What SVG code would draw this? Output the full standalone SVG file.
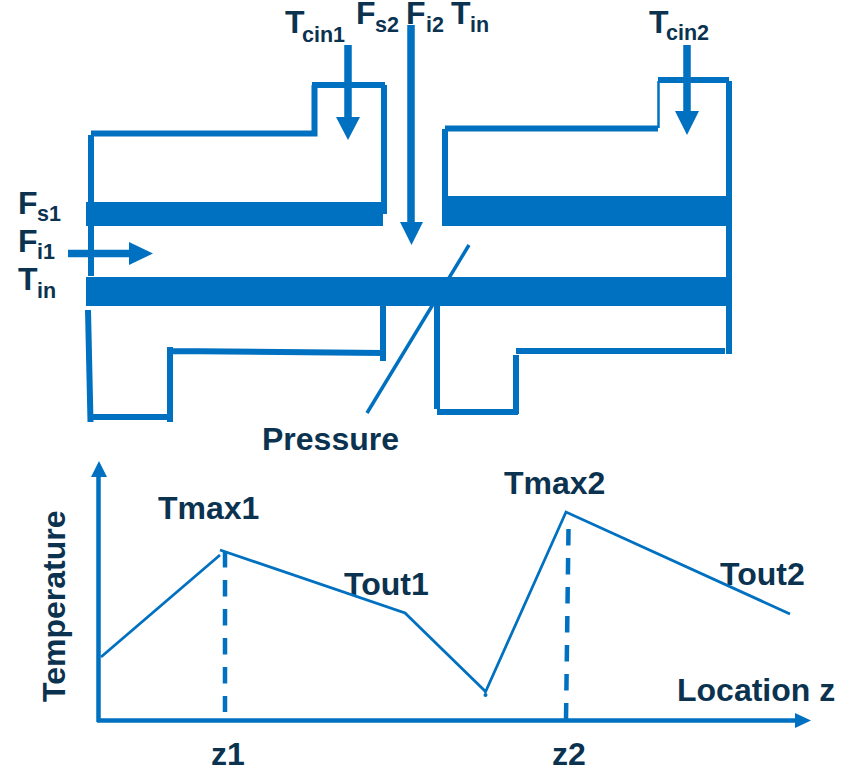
<svg xmlns="http://www.w3.org/2000/svg" width="846" height="766" viewBox="0 0 846 766">
<defs>
<style>
.w{fill:none;stroke:#0070C0;stroke-width:6}
.a{fill:none;stroke:#0070C0;stroke-width:7.5}
.b{fill:#0070C0}
.c{fill:none;stroke:#0070C0;stroke-width:2.800}
.t{font-family:"Liberation Sans",Arial,sans-serif;font-weight:700;font-size:32px;fill:#0B3350}
.s{font-size:21.500px}
</style>
</defs>
<rect width="846" height="766" fill="#fff"/>
<g id="reactor-1">
<path class="w" d="M91 276V135M91 133.500H314.500V85M312 85H385M384 85V214"/>
<rect class="b" x="86" y="202" width="297" height="24"/>
</g>
<g id="reactor-2">
<path class="w" d="M445 196V129M445 128.500H658"/>
<path d="M658.500 128V81" fill="none" stroke="#0070C0" stroke-width="2.500"/>
<path class="w" d="M658 80H729M729 81V354"/>
<rect class="b" x="442" y="196" width="288" height="30"/>
</g>
<g id="center-tube">
<rect class="b" x="86" y="277" width="644" height="29"/>
<path class="w" d="M88 310L90.500 422M90 417H170M170 422V347M170 351L384 353M383 306V361M437 306V409M437 412H518M516 414V355M516 351H725"/>
</g>
<g id="connectors">
<path class="a" d="M348 45V118M411 25V223M68 253.500H130M687 45V112"/>
<path class="b" d="M336 117H360L348 140ZM400 222H423L411.500 245ZM129 242V265L153 253.500ZM675 111H699L687 135Z"/>
<path d="M367 413L469 245" fill="none" stroke="#0070C0" stroke-width="3.500"/>
<path d="M98.500 722V476M97 720.500H796" fill="none" stroke="#0070C0" stroke-width="4.500"/>
<path class="b" d="M91 477H107L99 461ZM795 713V728L811 720.500Z"/>
</g>
<g id="labels">
<text class="t" x="285" y="33">T<tspan class="s" x="302" y="42">cin1</tspan></text>
<text class="t" x="356" y="24">F<tspan class="s" x="375" y="32">s2</tspan></text>
<text class="t" x="406" y="24">F<tspan class="s" x="426" y="32">i2</tspan></text>
<text class="t" x="451" y="24">T<tspan class="s" x="470" y="32">in</tspan></text>
<text class="t" x="649" y="33">T<tspan class="s" x="666" y="40">cin2</tspan></text>
<text class="t" x="18" y="214">F<tspan class="s" x="37" y="221">s1</tspan></text>
<text class="t" x="18" y="252">F<tspan class="s" x="37" y="259">i1</tspan></text>
<text class="t" x="18" y="290">T<tspan class="s" x="37" y="298">in</tspan></text>
<text class="t" x="262" y="450">Pressure</text>
<text class="t" x="158" y="519">Tmax1</text>
<text class="t" x="504" y="494">Tmax2</text>
<text class="t" x="344" y="595">Tout1</text>
<text class="t" x="720" y="585">Tout2</text>
<text class="t" x="677" y="701">Location z</text>
<text class="t" x="211" y="765">z1</text>
<text class="t" x="552" y="765">z2</text>
<text class="t" transform="translate(65 702) rotate(-90)">Temperature</text>
</g>
<g id="curve">
<path class="c" d="M101 657L220 555M220 550L405 613L485 691M485 693L566 512L790 614"/>
<circle class="b" cx="485.500" cy="695" r="2"/>
<path d="M225 551V712" fill="none" stroke="#0070C0" stroke-width="4.500" stroke-dasharray="16.500 12.500"/>
<path d="M568.500 529L566 720" fill="none" stroke="#0070C0" stroke-width="4.500" stroke-dasharray="16.500 12.500"/>
</g>
</svg>
